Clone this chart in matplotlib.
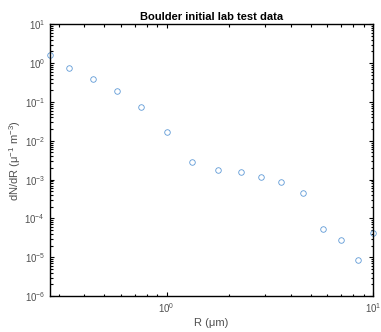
import numpy as np
import matplotlib
matplotlib.use("Agg")
import matplotlib.pyplot as plt

# values
radius_um = [0.272, 0.337, 0.438, 0.575, 0.753, 1.0, 1.33, 1.77, 2.29,
             2.86, 3.60, 4.58, 5.72, 7.03, 8.45, 10.0]
dndr = [1.6, 0.73, 0.38, 0.19, 0.075, 0.0166, 0.00285, 0.00174, 0.00157,
        0.00117, 0.00085, 0.00045, 5.2e-5, 2.8e-5, 8.3e-6, 4.1e-5]

plt.rcParams['font.family'] = ['Liberation Sans', 'DejaVu Sans']
plt.rcParams['mathtext.fontset'] = 'custom'
plt.rcParams['mathtext.rm'] = 'Liberation Sans'
plt.rcParams['mathtext.it'] = 'Liberation Sans:italic'

fig = plt.figure(figsize=(3.81, 3.32), dpi=100)
ax = fig.add_axes([0.131, 0.108, 0.848, 0.819])

ax.plot(radius_um, dndr, 'o', color='#5f9ad6', mfc='none', ms=4, mew=0.6,
        clip_on=False)
ax.set_xscale('log')
ax.set_yscale('log')
ax.set_xlim(min(radius_um), max(radius_um))
ax.set_ylim(1e-6, 1e1)
ax.set_yticks([10.0 ** k for k in range(-6, 2)])

txt = '#505050'
ax.tick_params(which='both', direction='in', top=True, right=True,
               labelsize=7, colors='black', labelcolor=txt, width=0.8)
ax.tick_params(which='major', length=3)
ax.tick_params(which='minor', length=1.8)
for s in ax.spines.values():
    s.set_linewidth(1.0)

ax.set_xlabel('R (μm)', fontsize=8, color=txt, labelpad=2)
ax.set_ylabel('dN/dR (μ$^{-1}$ m$^{-3}$)', fontsize=8, color=txt, labelpad=1)
ax.set_title('Boulder initial lab test data', fontsize=8, fontweight='bold',
             pad=3)

fig.savefig('out.png', dpi=100)
